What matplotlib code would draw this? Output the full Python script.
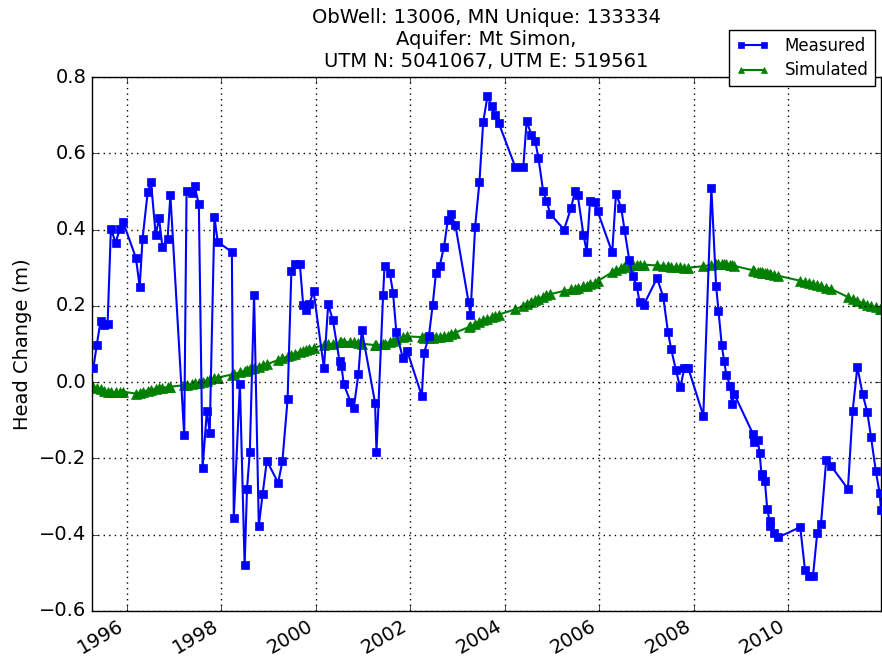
import pandas as pd
import matplotlib
matplotlib.use("Agg")
import matplotlib.pyplot as plt
import matplotlib.dates as mdates

plt.style.use("classic")

# fechas de observacion (anio decimal)
fechas = [
    1995.29, 1995.36, 1995.44, 1995.51, 1995.59, 1995.66, 1995.76, 1995.85, 1995.92,
    1996.19, 1996.27, 1996.33, 1996.44, 1996.51, 1996.61, 1996.68, 1996.75, 1996.86, 1996.92,
    1997.21, 1997.26, 1997.37, 1997.43, 1997.52, 1997.60, 1997.69, 1997.75, 1997.85, 1997.92,
    1998.22, 1998.26, 1998.39, 1998.49, 1998.54, 1998.60, 1998.69, 1998.79, 1998.87, 1998.96,
    1999.20, 1999.29, 1999.40, 1999.48, 1999.55, 1999.66, 1999.73, 1999.78, 1999.86, 1999.95,
    2000.17, 2000.26, 2000.36, 2000.50, 2000.54, 2000.59, 2000.73, 2000.80, 2000.90, 2000.97,
    2001.25, 2001.28, 2001.42, 2001.45, 2001.56, 2001.63, 2001.70, 2001.84, 2001.93,
    2002.24, 2002.29, 2002.39, 2002.47, 2002.54, 2002.62, 2002.71, 2002.79, 2002.85, 2002.95,
    2003.23, 2003.27, 2003.37, 2003.46, 2003.54, 2003.63, 2003.72, 2003.79, 2003.87,
    2004.22, 2004.39, 2004.46, 2004.56, 2004.64, 2004.71, 2004.81, 2004.88, 2004.96,
    2005.25, 2005.40, 2005.48, 2005.54, 2005.66, 2005.73, 2005.80, 2005.90, 2005.96,
    2006.27, 2006.35, 2006.46, 2006.53, 2006.63, 2006.70, 2006.79, 2006.85, 2006.94,
    2007.22, 2007.35, 2007.45, 2007.52, 2007.62, 2007.71, 2007.80, 2007.88,
    2008.20, 2008.37, 2008.47, 2008.52, 2008.59, 2008.64, 2008.69, 2008.77, 2008.81, 2008.85,
    2009.25, 2009.28, 2009.35, 2009.39, 2009.43, 2009.45, 2009.50, 2009.55, 2009.60, 2009.61,
    2009.69, 2009.78,
    2010.25, 2010.35, 2010.44, 2010.52, 2010.61, 2010.69, 2010.80, 2010.91,
    2011.26, 2011.36, 2011.46, 2011.57, 2011.67, 2011.75, 2011.85, 2011.93, 2011.96,
]

medido = [
    0.038, 0.097, 0.159, 0.149, 0.153, 0.402, 0.366, 0.402, 0.419,
    0.326, 0.250, 0.375, 0.499, 0.524, 0.385, 0.430, 0.355, 0.375, 0.490,
    -0.139, 0.500, 0.497, 0.514, 0.466, -0.225, -0.075, -0.133, 0.432, 0.368,
    0.341, -0.355, -0.004, -0.480, -0.280, -0.183, 0.228, -0.377, -0.294, -0.206,
    -0.264, -0.207, -0.045, 0.292, 0.309, 0.309, 0.202, 0.189, 0.206, 0.238,
    0.037, 0.204, 0.162, 0.055, 0.043, -0.005, -0.051, -0.069, 0.022, 0.137,
    -0.054, -0.183, 0.228, 0.305, 0.287, 0.235, 0.131, 0.062, 0.082,
    -0.036, 0.077, 0.121, 0.202, 0.287, 0.305, 0.355, 0.424, 0.441, 0.412,
    0.210, 0.177, 0.408, 0.524, 0.682, 0.749, 0.724, 0.701, 0.679,
    0.564, 0.564, 0.684, 0.649, 0.633, 0.588, 0.500, 0.476, 0.441,
    0.400, 0.457, 0.500, 0.490, 0.387, 0.342, 0.475, 0.472, 0.448,
    0.340, 0.494, 0.457, 0.400, 0.321, 0.279, 0.252, 0.209, 0.203,
    0.273, 0.224, 0.132, 0.086, 0.031, -0.014, 0.037, 0.037,
    -0.088, 0.509, 0.253, 0.187, 0.097, 0.055, 0.018, -0.010, -0.058, -0.030,
    -0.136, -0.156, -0.152, -0.185, -0.245, -0.240, -0.258, -0.332, -0.364, -0.377,
    -0.395, -0.407,
    -0.380, -0.492, -0.508, -0.508, -0.395, -0.371, -0.204, -0.221,
    -0.280, -0.075, 0.040, -0.031, -0.079, -0.145, -0.233, -0.290, -0.334,
]

simulado = [
    -0.012, -0.015, -0.019, -0.022, -0.025, -0.026, -0.027, -0.026, -0.025,
    -0.030, -0.028, -0.026, -0.022, -0.020, -0.017, -0.016, -0.015, -0.013, -0.012,
    -0.008, -0.007, -0.005, -0.003, -0.002, 0.001, 0.004, 0.007, 0.010, 0.012,
    0.020, 0.021, 0.026, 0.030, 0.032, 0.034, 0.037, 0.041, 0.044, 0.047,
    0.058, 0.062, 0.068, 0.072, 0.075, 0.079, 0.082, 0.084, 0.087, 0.090,
    0.097, 0.099, 0.101, 0.104, 0.104, 0.105, 0.105, 0.104, 0.103, 0.101,
    0.097, 0.097, 0.100, 0.101, 0.105, 0.108, 0.112, 0.118, 0.120,
    0.118, 0.117, 0.117, 0.117, 0.118, 0.118, 0.120, 0.122, 0.125, 0.130,
    0.144, 0.146, 0.152, 0.157, 0.162, 0.166, 0.170, 0.174, 0.177,
    0.191, 0.200, 0.205, 0.211, 0.215, 0.219, 0.224, 0.228, 0.231,
    0.239, 0.243, 0.245, 0.247, 0.251, 0.253, 0.256, 0.261, 0.265,
    0.288, 0.293, 0.299, 0.302, 0.305, 0.307, 0.308, 0.308, 0.308,
    0.306, 0.305, 0.304, 0.303, 0.302, 0.301, 0.300, 0.300,
    0.304, 0.307, 0.309, 0.310, 0.311, 0.311, 0.310, 0.308, 0.306, 0.305,
    0.293, 0.292, 0.290, 0.289, 0.288, 0.287, 0.286, 0.285, 0.283, 0.283,
    0.281, 0.279,
    0.266, 0.263, 0.260, 0.257, 0.254, 0.251, 0.248, 0.244,
    0.223, 0.218, 0.213, 0.208, 0.203, 0.200, 0.196, 0.193, 0.192,
]

titulo = "ObWell: 13006, MN Unique: 133334\nAquifer: Mt Simon,\nUTM N: 5041067, UTM E: 519561"


def anio_a_fecha(a):
    base = pd.Timestamp(year=int(a), month=1, day=1)
    return base + pd.Timedelta(days=(a - int(a)) * 365.25)


x = [anio_a_fecha(a) for a in fechas]

fig = plt.figure(figsize=(8.82, 6.62), dpi=100, facecolor="white")
ax = fig.add_axes([92 / 882, 1 - 611 / 662, 789 / 882, 534 / 662])

ax.plot(x, medido, "bs-", lw=1.5, ms=6, mec="b", label="Measured", zorder=3)
ax.plot(x, simulado, "g^-", lw=1.5, ms=6.5, mec="g", label="Simulated", zorder=2)

ax.set_xlim(anio_a_fecha(1995.26), anio_a_fecha(2011.96))
ax.set_ylim(-0.6, 0.8)
ax.set_yticks([-0.6, -0.4, -0.2, 0.0, 0.2, 0.4, 0.6, 0.8])
ax.xaxis.set_major_locator(mdates.YearLocator(2))
ax.xaxis.set_major_formatter(mdates.DateFormatter("%Y"))
ax.grid(True, color="k", linestyle=":", linewidth=1)
ax.tick_params(labelsize=14)
for lab in ax.get_xticklabels():
    lab.set_rotation(30)
    lab.set_ha("right")

ax.set_ylabel("Head Change (m)", fontsize=14)
ax.set_title(titulo, fontsize=14, linespacing=1.2, pad=7)

ax.legend(loc="upper right", bbox_to_anchor=(0.9924, 1.088), numpoints=2,
          fontsize=12, markerscale=0.65, borderaxespad=0, handlelength=2.0,
          labelspacing=0.4, borderpad=0.4, handletextpad=0.9, framealpha=1)

fig.savefig("out.png", dpi=100, facecolor="white")
